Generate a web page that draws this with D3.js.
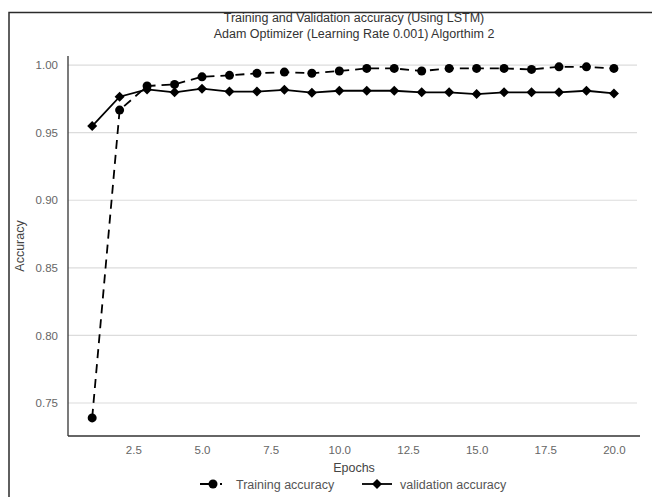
<!DOCTYPE html>
<html>
<head>
<meta charset="utf-8">
<script src="https://d3js.org/d3.v7.min.js"></script>
<style>
  body { margin: 0; background: #fff; }
  svg { font-family: "Liberation Sans", Arial, sans-serif; }
</style>
</head>
<body>
<svg id="chart" width="652" height="497"></svg>
<script>
// chart values
const epochs = d3.range(1, 21);
const trainAcc = [0.739, 0.9667, 0.9845, 0.9857, 0.9913, 0.9924, 0.9939, 0.9948, 0.9939, 0.9956,
                  0.9975, 0.9975, 0.9956, 0.9975, 0.9975, 0.9975, 0.9968, 0.9987, 0.9987, 0.9975];
const valAcc = [0.9549, 0.9766, 0.982, 0.9798, 0.9825, 0.9804, 0.9804, 0.9817, 0.9796, 0.981,
                0.981, 0.981, 0.9798, 0.9798, 0.9785, 0.9798, 0.9798, 0.9798, 0.981, 0.979];
const xTicks = [2.5, 5, 7.5, 10, 12.5, 15, 17.5, 20];
const yTicks = [0.75, 0.80, 0.85, 0.90, 0.95, 1.00];
const titleLines = ['Training and Validation accuracy (Using LSTM)', 'Adam Optimizer (Learning Rate 0.001) Algorthim 2'];
const seriesNames = ['Training accuracy', 'validation accuracy'];

const svg = d3.select('#chart');
const plotL = 68, plotR = 640, plotT = 56, plotB = 436;

const x = d3.scaleLinear().domain([0.12, 20.95]).range([plotL, plotR]);
const y = d3.scaleLinear().domain([0.7256, 1.0067]).range([plotB, plotT]);

// outer frame (screenshot border)
svg.append('path')
  .attr('d', 'M9,497 L9,12.5 L652,12.5')
  .attr('fill', 'none').attr('stroke', '#2b2b2b').attr('stroke-width', 1.5);

// grid
svg.append('g').selectAll('line').data(yTicks).join('line')
  .attr('x1', plotL).attr('x2', plotR - 3)
  .attr('y1', d => y(d)).attr('y2', d => y(d))
  .attr('stroke', '#dcdcdc').attr('stroke-width', 1.2);

// axes
const xAxis = svg.append('g').attr('transform', `translate(0,${plotB})`)
  .call(d3.axisBottom(x).tickValues(xTicks).tickFormat(d3.format('.1f')).tickSize(0).tickPadding(10));
const yAxis = svg.append('g').attr('transform', `translate(${plotL},0)`)
  .call(d3.axisLeft(y).tickValues(yTicks).tickFormat(d3.format('.2f')).tickSize(0).tickPadding(10));
[xAxis, yAxis].forEach(g => {
  g.select('.domain').attr('stroke', '#333').attr('stroke-width', 1.3);
  g.selectAll('text').attr('fill', '#666').attr('font-size', 11.5).attr('font-family', '"Liberation Sans", Arial, sans-serif');
});
yAxis.select('.domain').attr('d', `M0,${plotB}V${plotT}`);
xAxis.select('.domain').attr('d', `M${plotL},0H${plotR}`);

// titles and labels
svg.append('g').selectAll('text').data(titleLines).join('text')
  .attr('x', (plotL + plotR) / 2).attr('y', (d, i) => 22 + i * 16)
  .attr('text-anchor', 'middle').attr('font-size', 12.5).attr('fill', '#333')
  .text(d => d);
svg.append('text').attr('x', (plotL + plotR) / 2).attr('y', 472)
  .attr('text-anchor', 'middle').attr('font-size', 12.5).attr('fill', '#444').text('Epochs');
svg.append('text').attr('transform', `translate(24,${(plotT + plotB) / 2}) rotate(-90)`)
  .attr('text-anchor', 'middle').attr('font-size', 12.5).attr('fill', '#444').text('Accuracy');

const line = d3.line().x((d, i) => x(epochs[i])).y(d => y(d));
const diamond = d3.symbol().type(d3.symbolSquare).size(50);

// training: dashed with circles
svg.append('path').datum(trainAcc).attr('d', line)
  .attr('fill', 'none').attr('stroke', '#000').attr('stroke-width', 1.8).attr('stroke-dasharray', '9,6');
svg.append('g').selectAll('circle').data(trainAcc).join('circle')
  .attr('cx', (d, i) => x(epochs[i])).attr('cy', d => y(d)).attr('r', 4.5).attr('fill', '#000');

// validation: solid with diamonds
svg.append('path').datum(valAcc).attr('d', line)
  .attr('fill', 'none').attr('stroke', '#000').attr('stroke-width', 1.8);
svg.append('g').selectAll('path').data(valAcc).join('path')
  .attr('transform', (d, i) => `translate(${x(epochs[i])},${y(d)}) rotate(45)`)
  .attr('d', diamond).attr('fill', '#000');

// legend
const lg = svg.append('g').attr('transform', 'translate(0,484)');
const l1 = lg.append('g').attr('transform', 'translate(200,0)');
l1.append('line').attr('x1', 0).attr('x2', 26).attr('stroke', '#000').attr('stroke-width', 1.8).attr('stroke-dasharray', '11,9,2,10');
l1.append('circle').attr('cx', 13).attr('r', 4.5).attr('fill', '#000');
l1.append('text').attr('x', 36).attr('y', 4.5).attr('font-size', 12.5).attr('fill', '#555').text(seriesNames[0]);
const l2 = lg.append('g').attr('transform', 'translate(362,0)');
l2.append('line').attr('x1', 0).attr('x2', 30).attr('stroke', '#000').attr('stroke-width', 1.8);
l2.append('path').attr('transform', 'translate(15,0) rotate(45)').attr('d', diamond).attr('fill', '#000');
l2.append('text').attr('x', 38).attr('y', 4.5).attr('font-size', 12.5).attr('fill', '#555').text(seriesNames[1]);
</script>
</body>
</html>
